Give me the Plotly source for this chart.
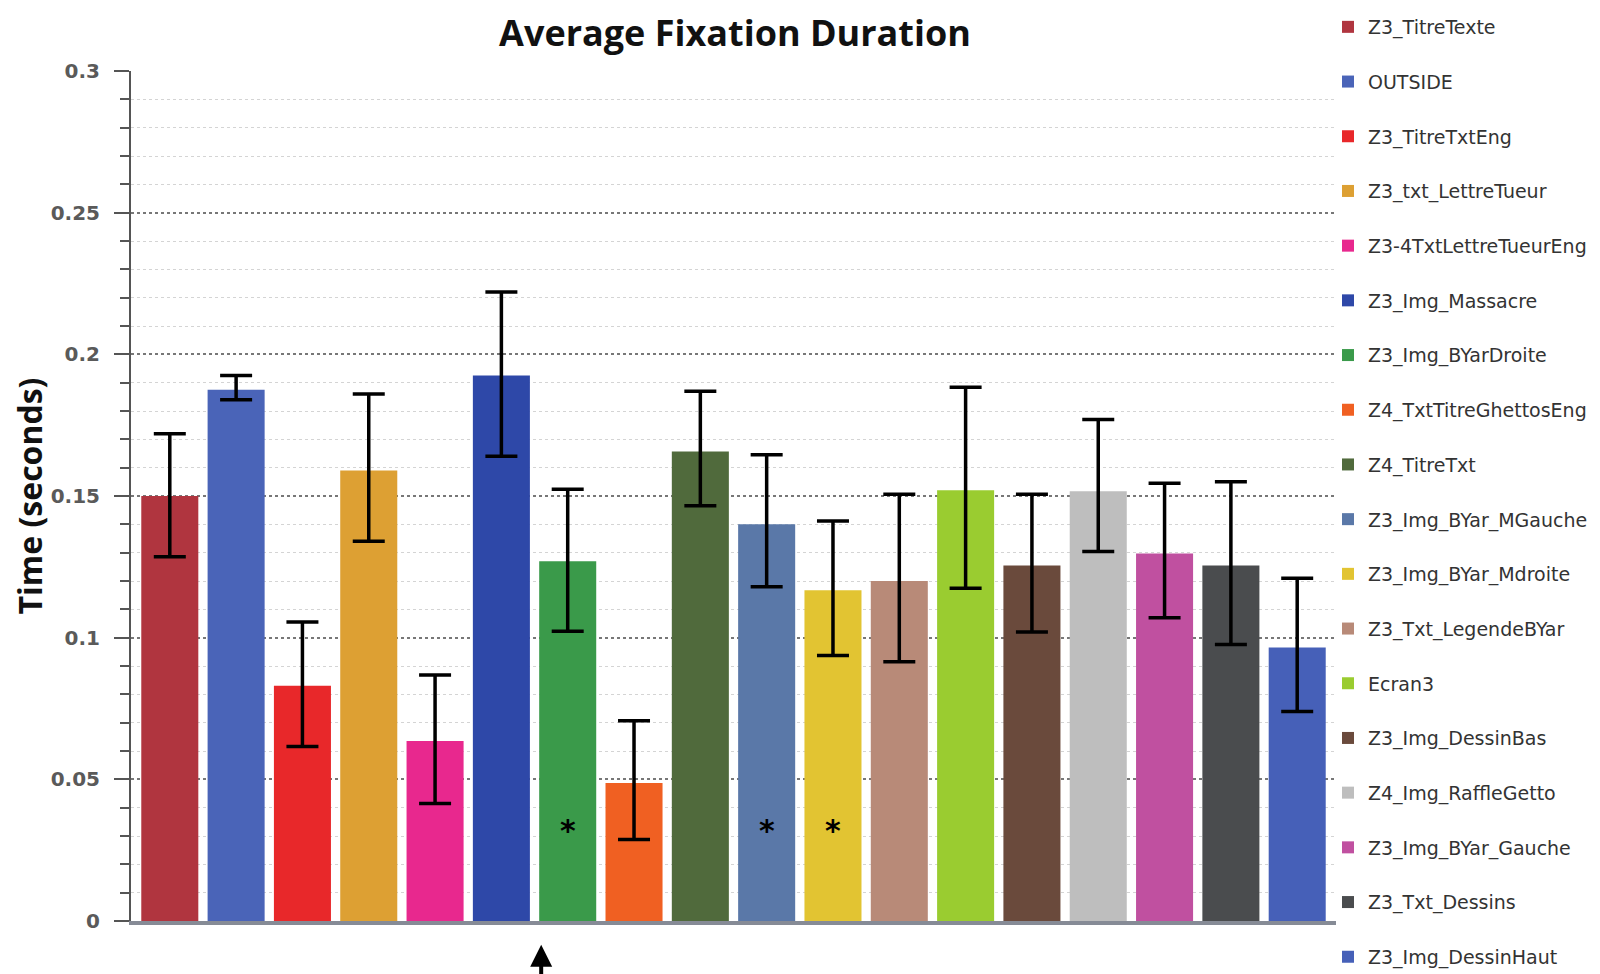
import plotly.graph_objects as go

categories = ["Z3_TitreTexte", "OUTSIDE", "Z3_TitreTxtEng", "Z3_txt_LettreTueur",
              "Z3-4TxtLettreTueurEng", "Z3_Img_Massacre", "Z3_Img_BYarDroite",
              "Z4_TxtTitreGhettosEng", "Z4_TitreTxt", "Z3_Img_BYar_MGauche",
              "Z3_Img_BYar_Mdroite", "Z3_Txt_LegendeBYar", "Ecran3", "Z3_Img_DessinBas",
              "Z4_Img_RaffleGetto", "Z3_Img_BYar_Gauche", "Z3_Txt_Dessins", "Z3_Img_DessinHaut"]
means = [0.150, 0.1875, 0.083, 0.159, 0.0635, 0.1925, 0.127, 0.0487, 0.1657, 0.140,
         0.1167, 0.120, 0.152, 0.1255, 0.1517, 0.1297, 0.1255, 0.0965]
err_plus = [0.022, 0.005, 0.0225, 0.027, 0.0233, 0.0295, 0.0254, 0.022, 0.0213, 0.0246,
            0.0245, 0.0306, 0.0364, 0.0251, 0.0253, 0.0248, 0.0295, 0.0245]
err_minus = [0.0214, 0.0035, 0.0214, 0.025, 0.022, 0.0285, 0.0247, 0.0199, 0.0191, 0.022,
             0.023, 0.0285, 0.0346, 0.0235, 0.0213, 0.0227, 0.0279, 0.0226]
colors = ["#B0353F", "#4A64B8", "#E8282A", "#DDA033", "#E8288E", "#2E48A8", "#3A9A4A",
          "#F06022", "#506A3C", "#5A78A8", "#E2C432", "#B88A78", "#9ACC30", "#6A4A3C",
          "#BEBEBE", "#C050A0", "#4A4C4E", "#4660B8"]
starred = ["Z3_Img_BYarDroite", "Z3_Img_BYar_MGauche", "Z3_Img_BYar_Mdroite"]
y_ticks = [0, 0.05, 0.1, 0.15, 0.2, 0.25, 0.3]
y_ticklabels = ["0", "0.05", "0.1", "0.15", "0.2", "0.25", "0.3"]

fig = go.Figure()
for c, m, ep, em, col in zip(categories, means, err_plus, err_minus, colors):
    fig.add_trace(go.Bar(
        x=[c], y=[m], name=c, legendgroup=c,
        marker=dict(color=col, line=dict(width=0)),
        error_y=dict(type="data", array=[ep], arrayminus=[em], symmetric=False,
                     color="black", thickness=3.5, width=16),
    ))

for c in starred:
    fig.add_annotation(x=c, y=0.032, text="<b>*</b>", showarrow=False,
                       font=dict(size=30, color="black", family="DejaVu Sans"),
                       yanchor="middle")

fig.add_annotation(x=5.6, y=-0.028, xref="x", yref="paper", text="", showarrow=True,
                   ax=0, ay=50, arrowhead=2, arrowsize=1.1, arrowwidth=4, arrowcolor="black")

fig.update_layout(
    width=1600, height=974,
    plot_bgcolor="white", paper_bgcolor="white",
    margin=dict(l=123, r=272, t=63, b=61, autoexpand=False),
    barmode="overlay", bargap=0.14,
    showlegend=True,
    title=dict(text="<b>Average Fixation Duration</b>", x=727 / 1600, xanchor="center",
               y=1 - 25 / 974, yanchor="middle",
               font=dict(family="Open Sans", size=36, color="#111111")),
    legend=dict(xref="container", yref="container", x=1320 / 1600, y=1.0,
                xanchor="left", yanchor="top", tracegroupgap=27, maxheight=974,
                font=dict(family="DejaVu Sans", size=19, color="#333333"),
                bgcolor="rgba(0,0,0,0)", itemclick=False),
    xaxis=dict(range=[-0.585, 17.585], showticklabels=False, showgrid=False,
               showline=True, linecolor="#868b96", linewidth=4, ticks="", zeroline=False),
    yaxis=dict(range=[0, 0.3], tickvals=y_ticks, ticktext=y_ticklabels,
               showline=True, linecolor="#555555", linewidth=2,
               ticks="outside", ticklen=15, tickwidth=2, tickcolor="#555555",
               ticklabelstandoff=10,
               tickfont=dict(family="DejaVu Sans", size=20, color="#5a5a5a", weight="bold"),
               showgrid=True, gridcolor="#777777", griddash="dot", gridwidth=1.5,
               zeroline=False,
               minor=dict(dtick=0.01, ticks="outside", ticklen=9, tickwidth=2,
                          tickcolor="#555555", showgrid=True, gridcolor="#d4d4d4",
                          gridwidth=1),
               title=dict(text="<b>Time (seconds)</b>", standoff=12,
                          font=dict(family="Open Sans", size=32, color="#111111"))),
)

fig.write_html("out.html")
